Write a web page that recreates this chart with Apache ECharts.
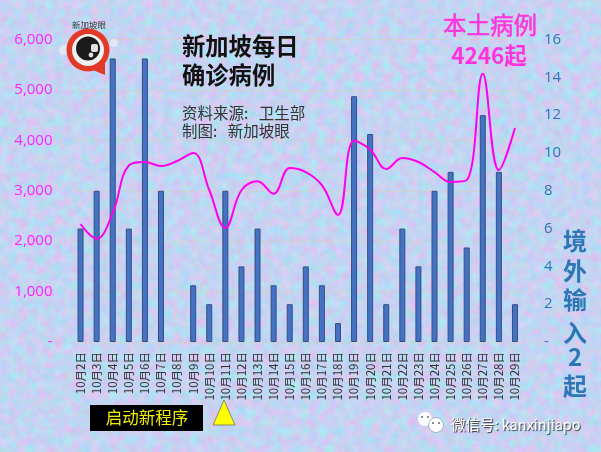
<!DOCTYPE html>
<html><head><meta charset="utf-8">
<style>
html,body{margin:0;padding:0;width:601px;height:452px;overflow:hidden;background-color:#c6d8f6}
#bg{position:absolute;left:0;top:0}
#c{position:absolute;left:0;top:0;width:601px;height:452px}
</style>
<script src="https://cdn.jsdelivr.net/npm/echarts@6/dist/echarts.min.js"></script>
</head><body>
<svg id="bg" width="601" height="452" xmlns="http://www.w3.org/2000/svg">
<filter id="n" x="0" y="0" width="100%" height="100%" color-interpolation-filters="sRGB">
<feTurbulence type="fractalNoise" baseFrequency="0.11" numOctaves="4" seed="7"/>
<feColorMatrix type="matrix" values="0.38 0 0 0 0.58  -0.2 0.12 0 0 0.87  0 0 0.1 0 0.9  0 0 0 0 1"/>
</filter>
<rect width="601" height="452" filter="url(#n)"/>
</svg>
<div id="c"></div>
<script>
var categories = ['10月2日','10月3日','10月4日','10月5日','10月6日','10月7日','10月8日','10月9日','10月10日','10月11日','10月12日','10月13日','10月14日','10月15日','10月16日','10月17日','10月18日','10月19日','10月20日','10月21日','10月22日','10月23日','10月24日','10月25日','10月26日','10月27日','10月28日','10月29日'];
var importedCases = [6,8,15,6,15,8,0,3,2,8,4,6,3,2,4,3,1,13,11,2,6,4,8,9,5,12,9,2];
var localCases = [2340,2050,2560,3500,3570,3490,3590,3750,3015,2260,3010,3190,2940,3450,3370,3110,2520,3990,3820,3430,3650,3570,3370,3175,3210,5320,3410,4246];
var leftTickMax = 6000, leftTickStep = 1000, rightTickMax = 16, rightTickStep = 2;

var cjk = '"Noto Sans CJK SC","Liberation Sans",sans-serif';
function txt(x,y,s,size,color,opt){
  opt = opt||{};
  return {type:'text',x:x,y:y,z:50,silent:true,style:{text:s,fontSize:size,fill:color,fontFamily:opt.family||cjk,fontWeight:opt.weight||'normal',
    align:opt.align||'left',verticalAlign:'middle',stroke:opt.stroke,lineWidth:opt.lw||0,textShadowColor:opt.sc,textShadowBlur:opt.sb||0,textShadowOffsetX:opt.sx||0,textShadowOffsetY:opt.sy||0}};
}
var blue='#2e75b6', pink='#ff33dd';
var graphics=[
  // logo
  {type:'circle',z:40,shape:{cx:64,cy:50,r:5},style:{fill:'#e8ecef',opacity:.8}},
  {type:'circle',z:40,shape:{cx:114,cy:43,r:4},style:{fill:'#e8ecef',opacity:.8}},
  {type:'polygon',z:41,shape:{points:[[88,68],[105,75],[105,60]]},style:{fill:'#e23a26'}},
  {type:'circle',z:41,shape:{cx:88,cy:50,r:21.5},style:{fill:'#e23a26'}},
  {type:'circle',z:42,shape:{cx:88,cy:50,r:16},style:{fill:'#eef0f2'}},
  {type:'circle',z:43,shape:{cx:88,cy:48.5,r:12},style:{fill:'#1c1a1a'}},
  {type:'rect',z:44,shape:{x:91,y:44,width:7,height:8,r:2},style:{fill:'#dfe2e4'}},
  {type:'circle',z:44,shape:{cx:91,cy:55,r:2.4},style:{fill:'#dfe2e4'}},
  txt(89,25,'新加坡眼',8.5,'#3a3a3a',{align:'center'}),
  // title
  txt(182,46,'新加坡每日',23.3,'#111',{weight:'bold'}),
  txt(182,75,'确诊病例',23.3,'#111',{weight:'bold'}),
  txt(182,113,'资料来源:   卫生部',15.5,'#333'),
  txt(182,131,'制图:   新加坡眼',15.5,'#333'),
  // series notes
  txt(490,25,'本土病例',23.5,pink,{align:'center',stroke:pink,lw:.5}),
  txt(489,55,'4246起',22.5,pink,{align:'center',weight:'bold'}),
  txt(575,241,'境',24,blue,{align:'center',weight:'bold'}),
  txt(575,271,'外',24,blue,{align:'center',weight:'bold'}),
  txt(575,300,'输',24,blue,{align:'center',weight:'bold'}),
  txt(575,333,'入',24,blue,{align:'center',weight:'bold'}),
  txt(575,357,'2',24,blue,{align:'center',weight:'bold'}),
  txt(575,386,'起',24,blue,{align:'center',weight:'bold'}),
  // programme marker
  {type:'rect',z:45,shape:{x:90,y:405,width:113,height:26},style:{fill:'#000'}},
  txt(147,418,'启动新程序',16.5,'#f2f200',{align:'center'}),
  {type:'polygon',z:45,shape:{points:[[224,400],[213,425],[235,425]]},style:{fill:'#ffff00',stroke:'#8a8a60',lineWidth:1}},
  // wechat mark
  {type:'circle',z:45,shape:{cx:425,cy:419,r:7},style:{fill:'#fff'}},
  {type:'circle',z:46,shape:{cx:436,cy:425,r:7.5},style:{fill:'#fff',stroke:'#7a88a0',lineWidth:.6}},
  {type:'circle',z:47,shape:{cx:433,cy:423,r:1},style:{fill:'#667'}},
  {type:'circle',z:47,shape:{cx:439,cy:423,r:1},style:{fill:'#667'}},
  {type:'circle',z:47,shape:{cx:422,cy:417,r:1},style:{fill:'#667'}},
  {type:'circle',z:47,shape:{cx:428,cy:417,r:1},style:{fill:'#667'}},
  txt(451,424,'微信号: kanxinjiapo',14.5,'#fff',{sc:'#333',sb:1,sx:1,sy:1})
];
var chart=echarts.init(document.getElementById('c'),null,{renderer:'canvas',width:601,height:452});
chart.setOption({
  animation:false,
  backgroundColor:'transparent',
  grid:{left:72.5,right:78,top:39.5,bottom:110},
  xAxis:{type:'category',data:categories,axisTick:{show:false},
    axisLine:{show:false},
    axisLabel:{rotate:90,interval:0,fontSize:11.5,color:'#333',margin:10,fontFamily:cjk}},
  yAxis:[
    {type:'value',min:0,max:leftTickMax,interval:leftTickStep,position:'left',
     axisLine:{show:false},axisTick:{show:false},
     splitLine:{lineStyle:{color:'rgba(225,205,170,0.45)',width:1}},
     axisLabel:{margin:20,fontSize:15,color:'#ff22ff',padding:[3,0,0,0],fontFamily:'"Open Sans","Liberation Sans",sans-serif',
       formatter:function(v){return v===0?'-':v.toLocaleString('en-US');}}},
    {type:'value',min:0,max:rightTickMax,interval:rightTickStep,position:'right',
     axisLine:{show:false},axisTick:{show:false},splitLine:{show:false},
     axisLabel:{margin:21,fontSize:15,color:blue,padding:[3,0,0,0],fontFamily:'"Open Sans","Liberation Sans",sans-serif',
       formatter:function(v){return v===0?'-':String(v);}}}
  ],
  series:[
    {name:'境外输入',type:'bar',yAxisIndex:1,barWidth:6,
     data:importedCases.map(function(v){return v===0?{value:v,itemStyle:{opacity:0}}:v;}),
     itemStyle:{color:'#4472c4',borderColor:'#35507f',borderWidth:1}},
    {name:'本土病例',type:'line',yAxisIndex:0,data:localCases,smooth:0.4,symbol:'none',
     lineStyle:{color:'#ff00ee',width:2}}
  ],
  graphic:graphics
});
</script>
</body></html>
